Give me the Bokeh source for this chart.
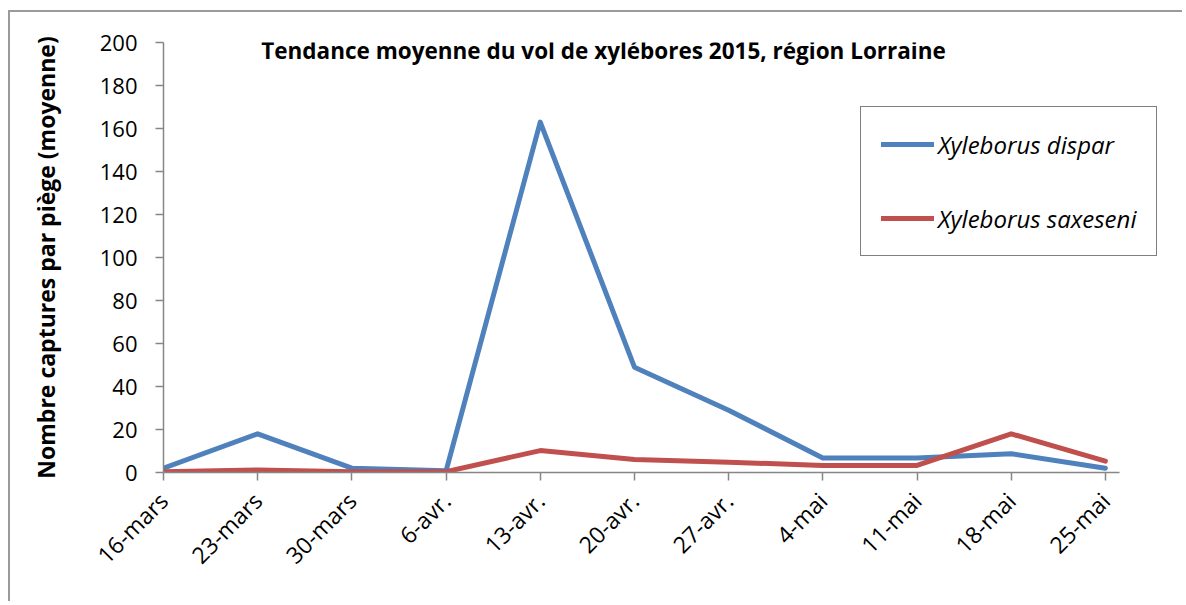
import math
from bokeh.plotting import figure
from bokeh.models import ColumnDataSource, FixedTicker, Label, Legend, LegendItem, Range1d
from bokeh.embed import file_html
from bokeh.resources import INLINE

dates = ["16-mars", "23-mars", "30-mars", "6-avr.", "13-avr.", "20-avr.",
         "27-avr.", "4-mai", "11-mai", "18-mai", "25-mai"]
dispar = [2, 18, 2, 0.8, 163, 49, 29, 6.7, 6.7, 8.7, 2]
saxeseni = [0.4, 1.2, 0.4, 0.4, 10.2, 6, 4.8, 3.3, 3.3, 18, 5.3]
y_ticks = [0, 20, 40, 60, 80, 100, 120, 140, 160, 180, 200]
series_names = ["Xyleborus dispar", "Xyleborus saxeseni"]
title_text = "Tendance moyenne du vol de xylébores 2015, région Lorraine"
y_label = "Nombre captures par piège (moyenne)"

FONT = "Open Sans"
AXIS_COLOR = "#868686"

src = ColumnDataSource(dict(x=list(range(len(dates))), dispar=dispar, saxeseni=saxeseni))

p = figure(width=1174, height=591, output_backend="svg", toolbar_location=None,
           x_range=Range1d(0, 10.84), y_range=Range1d(0, 200),
           min_border_left=153, min_border_right=0, min_border_top=30,
           min_border_bottom=131)
p.styles = {"border-left": "2px solid #9a9a9a", "border-top": "2px solid #9a9a9a",
            "margin-top": "10px", "margin-left": "8px"}
p.outline_line_color = None
p.xgrid.visible = False
p.ygrid.visible = False

r1 = p.line("x", "dispar", source=src, line_color="#4F81BD", line_width=5,
            line_join="round", line_cap="round")
r2 = p.line("x", "saxeseni", source=src, line_color="#C0504D", line_width=5,
            line_join="round", line_cap="round")

# axes
p.xaxis.ticker = FixedTicker(ticks=list(range(len(dates))))
p.xaxis.major_label_overrides = {i: d for i, d in enumerate(dates)}
p.xaxis.major_label_orientation = math.pi / 4
p.xaxis.bounds = (0, 10.15)
p.yaxis.ticker = FixedTicker(ticks=y_ticks)
for ax in (p.xaxis[0], p.yaxis[0]):
    ax.axis_line_color = AXIS_COLOR
    ax.axis_line_width = 1.5
    ax.major_tick_line_color = AXIS_COLOR
    ax.major_tick_line_width = 1.5
    ax.minor_tick_line_color = None
    ax.major_tick_in = 0
    ax.major_tick_out = 8
    ax.major_label_text_font = FONT
    ax.major_label_text_color = "#000000"
p.yaxis.major_label_text_font_size = "22px"
p.xaxis.major_label_text_font_size = "23px"
p.yaxis.major_label_standoff = 18
p.xaxis.major_label_standoff = 16
p.yaxis.axis_label = y_label
p.yaxis.axis_label_text_font = FONT
p.yaxis.axis_label_text_font_style = "bold"
p.yaxis.axis_label_text_font_size = "23px"
p.yaxis.axis_label_text_color = "#000000"
p.yaxis.axis_label_standoff = 35

# title inside plot area
p.add_layout(Label(x=440, y=422, x_units="screen", y_units="screen", text=title_text,
                   text_font=FONT, text_font_style="bold", text_font_size="22.5px",
                   text_align="center", text_baseline="middle", text_color="#000000"))

legend = Legend(items=[LegendItem(label=series_names[0], renderers=[r1]),
                       LegendItem(label=series_names[1], renderers=[r2])],
                location=(697, 216), margin=0, padding=20, spacing=40,
                label_height=34, glyph_height=34, glyph_width=53, label_standoff=4,
                label_text_font=FONT, label_text_font_style="italic",
                label_text_font_size="24px", label_text_color="#000000",
                border_line_color="#000000", border_line_width=1,
                background_fill_alpha=1)
p.add_layout(legend)

open("out.html", "w").write(file_html(p, INLINE))
